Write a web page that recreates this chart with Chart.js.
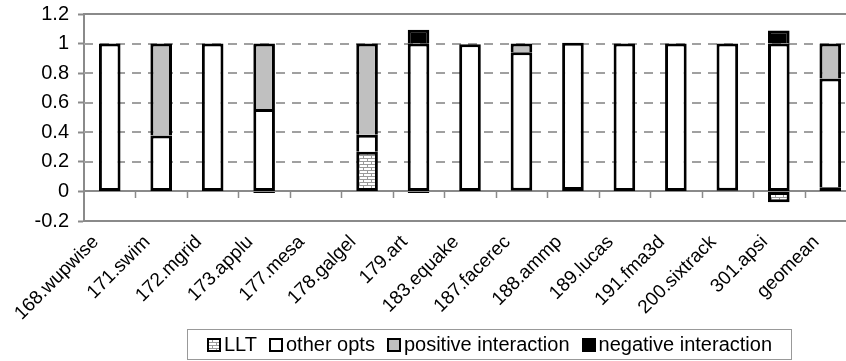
<!DOCTYPE html>
<html lang="en">
<head>
    <meta charset="UTF-8">
    <title>LLT breakdown</title>
    <script src="https://cdn.jsdelivr.net/npm/chart.js"></script>
    <style>
        body { margin: 0; overflow: hidden; background: #fff; }
        .wrap { position: relative; width: 856px; height: 361px; }
        #legenda {
            position: absolute; left: 187px; top: 329px; width: 603px; height: 29px;
            border: 1px solid #999; display: flex; align-items: center; justify-content: center;
            font: 20px "Liberation Sans", Arial, sans-serif; color: #000;
        }
        #legenda .item { display: flex; align-items: center; margin: 0 6px; }
        #legenda .sw { width: 14px; height: 14px; box-sizing: border-box; border: 2px solid #000; margin-right: 3px; }
    </style>
</head>
<body>
    <div class="wrap">
        <canvas id="grafico" width="856" height="361"></canvas>
        <div id="legenda"></div>
    </div>

    <script>
        const benchmarks = ['168.wupwise', '171.swim', '172.mgrid', '173.applu', '177.mesa', '178.galgel', '179.art',
            '183.equake', '187.facerec', '188.ammp', '189.lucas', '191.fma3d', '200.sixtrack', '301.apsi', 'geomean'];
        const llt = [null, null, null, -0.01, null, 0.268, -0.01, null, 0.005, 0.01, null, null, 0.005, -0.074, 0.028];
        const otherOpts = [1.0, 0.378, 1.0, 0.557, null, 0.115, 1.0, 0.995, 0.937, 0.995, 1.0, 1.0, 0.995, 1.0, 0.736];
        const positive = [null, 0.622, null, 0.443, null, 0.617, null, null, 0.058, null, null, null, null, null, 0.236];
        const negative = [null, null, null, null, null, null, 0.093, null, null, null, null, null, null, 0.088, null];
        const yTicks = [-0.2, 0, 0.2, 0.4, 0.6, 0.8, 1, 1.2];

        // padrão de "tijolinhos" do LLT
        function tijolos() {
            const c = document.createElement('canvas');
            c.width = 8; c.height = 6;
            const g = c.getContext('2d');
            g.fillStyle = '#fff'; g.fillRect(0, 0, 8, 6);
            g.fillStyle = '#9a9a9a';
            g.fillRect(0, 2, 8, 1); g.fillRect(0, 5, 8, 1);
            g.fillRect(3, 0, 1, 2); g.fillRect(7, 3, 1, 2);
            return c;
        }
        const tijoloCanvas = tijolos();
        const ctx = document.getElementById('grafico').getContext('2d');
        const brick = ctx.createPattern(tijoloCanvas, 'repeat');

        const series = [
            { label: 'LLT', data: llt, fill: brick, css: 'url(' + tijoloCanvas.toDataURL() + ')' },
            { label: 'other opts', data: otherOpts, fill: '#ffffff', css: '#ffffff' },
            { label: 'positive interaction', data: positive, fill: '#c0c0c0', css: '#c0c0c0' },
            { label: 'negative interaction', data: negative, fill: '#000000', css: '#000000' }
        ];

        // legenda em HTML (com a caixinha igual ao original)
        const legenda = document.getElementById('legenda');
        series.forEach(s => {
            const item = document.createElement('span');
            item.className = 'item';
            const sw = document.createElement('span');
            sw.className = 'sw';
            sw.style.background = s.css;
            item.appendChild(sw);
            item.appendChild(document.createTextNode(s.label));
            legenda.appendChild(item);
        });

        // se já existe um pedaço (não minúsculo) embaixo na pilha, não desenha a borda da base
        function pularBase(c) {
            const v = series[c.datasetIndex].data[c.dataIndex];
            if (v == null) return false;
            for (let d = 0; d < c.datasetIndex; d++) {
                const w = series[d].data[c.dataIndex];
                if (w != null && Math.abs(w) > 0.02 && Math.sign(w) === Math.sign(v)) return 'start';
            }
            return false;
        }

        // grade tracejada, linha do zero e tracinhos das categorias
        const gradePlugin = {
            id: 'grade',
            beforeDatasetsDraw(chart) {
                const { ctx, chartArea: a, scales: { x, y } } = chart;
                ctx.save();
                ctx.lineWidth = 2;
                ctx.strokeStyle = '#a0a0a0';
                ctx.setLineDash([9, 7]);
                yTicks.forEach(v => {
                    if (v <= 0 || v >= 1.2) return;
                    const py = Math.round(y.getPixelForValue(v));
                    ctx.beginPath(); ctx.moveTo(a.left, py); ctx.lineTo(a.right, py); ctx.stroke();
                });
                ctx.setLineDash([]);
                ctx.strokeStyle = '#8a8a8a';
                const zero = Math.round(y.getPixelForValue(0));
                const topo = Math.round(y.getPixelForValue(1.2));
                ctx.beginPath();
                ctx.moveTo(a.left, zero); ctx.lineTo(a.right, zero);
                ctx.moveTo(a.left, topo); ctx.lineTo(a.right, topo);
                ctx.stroke();
                ctx.lineWidth = 1.5;
                ctx.beginPath();
                for (let i = 1; i <= benchmarks.length; i++) {
                    const px = Math.round(x.getPixelForValue(i - 0.5)) + 0.5;
                    ctx.moveTo(px, zero); ctx.lineTo(px, zero + 7);
                }
                ctx.stroke();
                ctx.restore();
            }
        };

        new Chart(ctx, {
            type: 'bar',
            data: {
                labels: benchmarks,
                datasets: series.map(s => ({
                    label: s.label,
                    data: s.data,
                    backgroundColor: s.fill,
                    borderColor: '#000',
                    borderWidth: 3,
                    borderSkipped: pularBase,
                    categoryPercentage: 1,
                    barPercentage: 0.42
                }))
            },
            options: {
                responsive: false,
                animation: false,
                layout: { padding: { top: 14, left: 0, right: 0, bottom: 0 } },
                plugins: {
                    legend: { display: false },
                    tooltip: { enabled: false }
                },
                scales: {
                    x: {
                        stacked: true,
                        grid: { display: false },
                        border: { display: true, color: '#8a8a8a', width: 2 },
                        ticks: {
                            autoSkip: false, minRotation: 45, maxRotation: 45,
                            labelOffset: -14, padding: 2,
                            color: '#000', font: { family: 'Liberation Sans', size: 19 }
                        },
                        afterFit: s => { s.height = 140; }
                    },
                    y: {
                        stacked: true,
                        min: -0.2, max: 1.2,
                        afterBuildTicks: s => { s.ticks = yTicks.map(v => ({ value: v })); },
                        grid: { drawOnChartArea: false, tickLength: 6, tickColor: '#8a8a8a', tickWidth: 2 },
                        border: { color: '#8a8a8a', width: 2 },
                        ticks: {
                            padding: 9, color: '#000',
                            font: { family: 'Liberation Sans', size: 20 },
                            callback: v => String(Math.round(v * 10) / 10)
                        },
                        afterFit: s => { s.width = 84; s.paddingTop = 0; s.paddingBottom = 0; }
                    }
                }
            },
            plugins: [gradePlugin]
        });
    </script>
</body>
</html>
